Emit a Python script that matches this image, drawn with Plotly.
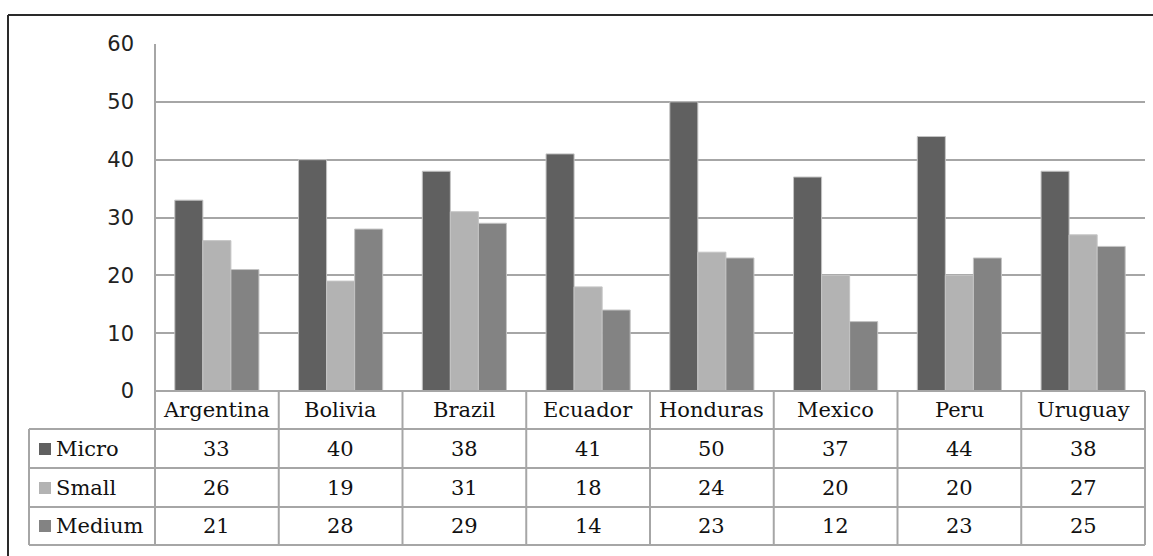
import plotly.graph_objects as go

countries = ["Argentina", "Bolivia", "Brazil", "Ecuador", "Honduras", "Mexico", "Peru", "Uruguay"]
micro = [33, 40, 38, 41, 50, 37, 44, 38]
small = [26, 19, 31, 18, 24, 20, 20, 27]
medium = [21, 28, 29, 14, 23, 12, 23, 25]
series_names = ["Micro", "Small", "Medium"]
series_colors = ["#606060", "#b3b3b3", "#838383"]
y_ticks = [0, 10, 20, 30, 40, 50, 60]

W, H = 1153, 556
L, R, T, B = 155, 8, 44, 165
PW, PH = W - L - R, H - T - B


def px(x):
    return (x - L) / PW


def py(y):
    return (H - B - y) / PH


fig = go.Figure()
for name, vals, col in zip(series_names, [micro, small, medium], series_colors):
    fig.add_trace(go.Bar(
        x=countries, y=vals, name=name,
        marker=dict(color=col, line=dict(color="#c4c4c4", width=1)),
        hoverinfo="x+y+name",
    ))

grid = "#a6a6a6"
shapes = []
# outer frame (top and left edges)
shapes.append(dict(type="line", xref="paper", yref="paper", x0=px(8), x1=px(W + 5), y0=py(15), y1=py(15),
                   line=dict(color="#2a2a2a", width=2)))
shapes.append(dict(type="line", xref="paper", yref="paper", x0=px(8), x1=px(8), y0=py(15), y1=py(H + 5),
                   line=dict(color="#2a2a2a", width=2)))

# data table grid
row_tops = [391, 429, 468, 507, 545]
n = len(countries)
cell_w = PW / n
for i, yy in enumerate(row_tops):
    x0 = L if i == 0 else 29
    shapes.append(dict(type="line", xref="paper", yref="paper", x0=px(x0), x1=px(L + PW), y0=py(yy), y1=py(yy),
                       line=dict(color=grid, width=2)))
shapes.append(dict(type="line", xref="paper", yref="paper", x0=px(29), x1=px(29), y0=py(429), y1=py(545),
                   line=dict(color=grid, width=2)))
shapes.append(dict(type="line", xref="paper", yref="paper", x0=0, x1=0, y0=1, y1=py(545),
                   line=dict(color=grid, width=2)))
for k in range(1, n + 1):
    xx = L + k * cell_w
    shapes.append(dict(type="line", xref="paper", yref="paper", x0=px(xx), x1=px(xx), y0=py(391), y1=py(545),
                       line=dict(color=grid, width=2)))

serif = dict(family="DejaVu Serif", size=21, color="#111111")
annotations = []
row_centers = [410, 449, 488, 526]
for c in countries:
    annotations.append(dict(x=c, xref="x", y=py(row_centers[0]), yref="paper", text=c, showarrow=False,
                            font=serif, xanchor="center", yanchor="middle"))
for r, (name, vals, col) in enumerate(zip(series_names, [micro, small, medium], series_colors)):
    yc = row_centers[r + 1]
    shapes.append(dict(type="rect", xref="paper", yref="paper", x0=px(39), x1=px(51), y0=py(yc - 6), y1=py(yc + 6),
                       line=dict(width=0), fillcolor=col))
    annotations.append(dict(x=px(54), xref="paper", y=py(yc), yref="paper", text=name, showarrow=False,
                            font=serif, xanchor="left", yanchor="middle"))
    for c, v in zip(countries, vals):
        annotations.append(dict(x=c, xref="x", y=py(yc), yref="paper", text=str(v), showarrow=False,
                                font=serif, xanchor="center", yanchor="middle"))

fig.update_layout(
    width=W, height=H,
    margin=dict(l=L, r=R, t=T, b=B),
    paper_bgcolor="white", plot_bgcolor="white",
    barmode="group", bargap=0.32, bargroupgap=0,
    showlegend=False,
    shapes=shapes, annotations=annotations,
    xaxis=dict(showticklabels=False, showgrid=False, zeroline=False, showline=False, ticks=""),
    yaxis=dict(range=[0, 60], tickvals=y_ticks, showgrid=True, gridcolor=grid, gridwidth=2,
               zeroline=False, showline=False, ticks="", ticklabelstandoff=20,
               tickfont=dict(family="DejaVu Sans", size=21, color="#222222")),
)

fig.write_html("out.html")
